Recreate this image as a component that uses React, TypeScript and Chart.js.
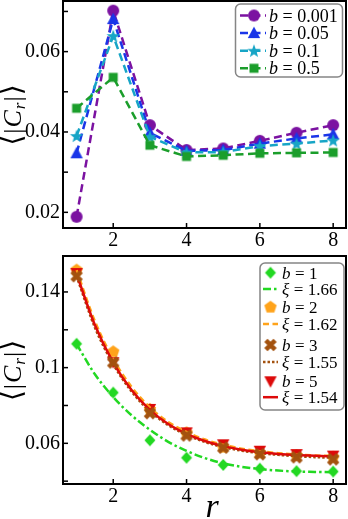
import React, { useEffect, useRef } from "react";
import { Chart, registerables } from "chart.js";
Chart.register(...registerables);

// ---------- data ----------
const rValues = [1, 2, 3, 4, 5, 6, 7, 8];

// top panel series
const bTop0001 = [0.0189, 0.0702, 0.0417, 0.0355, 0.0359, 0.0378, 0.0398, 0.0417];
const bTop005 = [0.0347, 0.0681, 0.0398, 0.0353, 0.0355, 0.0371, 0.0384, 0.0394];
const bTop01 = [0.039, 0.0639, 0.0388, 0.0349, 0.035, 0.0365, 0.0371, 0.0379];
const bTop05 = [0.0459, 0.0536, 0.0367, 0.0339, 0.0342, 0.0347, 0.0348, 0.0349];
const topLegendValues = ["0.001", "0.05", "0.1", "0.5"];

// bottom panel series
const bBot1 = [0.1126, 0.0868, 0.0616, 0.0524, 0.0486, 0.0466, 0.0453, 0.0451];
const bBot2 = [0.1518, 0.1086, 0.0782, 0.0658, 0.0582, 0.0552, 0.0538, 0.0529];
const bBot3 = [0.1483, 0.1027, 0.0759, 0.0641, 0.0577, 0.0542, 0.0526, 0.0515];
const bBot5 = [0.15, 0.1029, 0.0782, 0.0658, 0.0595, 0.0561, 0.0543, 0.0535];

// fitted curves
const rFit = [1, 1.5, 2, 2.5, 3, 3.5, 4, 4.5, 5, 5.5, 6, 6.5, 7, 7.5, 8];
const fitXi166 = [0.1125, 0.0965, 0.0845, 0.0748, 0.0672, 0.0608, 0.056, 0.0522, 0.0494, 0.0476, 0.0464, 0.0456, 0.0451, 0.0449, 0.0447];
const fitXi162 = [0.1515, 0.1245, 0.1045, 0.0898, 0.079, 0.0713, 0.066, 0.062, 0.0592, 0.0572, 0.0558, 0.0548, 0.0541, 0.0536, 0.0533];
const fitXi155 = [0.1483, 0.1212, 0.1018, 0.0874, 0.077, 0.0696, 0.0645, 0.0607, 0.058, 0.0561, 0.0548, 0.0539, 0.0532, 0.0527, 0.0524];
const fitXi154 = [0.1495, 0.1225, 0.1027, 0.0882, 0.0777, 0.0702, 0.065, 0.0612, 0.0585, 0.0566, 0.0553, 0.0544, 0.0538, 0.0534, 0.0531];
const bBotValues = ["1", "2", "3", "5"];
const xiValues = ["1.66", "1.62", "1.55", "1.54"];

// ticks
const xTicks = [2, 4, 6, 8];
const xTickLabels = ["2", "4", "6", "8"];
const topYTicks = [0.02, 0.03, 0.04, 0.05, 0.06, 0.07];
const topYLabels = ["0.02", "", "0.04", "", "0.06", ""];
const botYTicks = [0.04, 0.06, 0.08, 0.1, 0.12, 0.14];
const botYLabels = ["", "0.06", "", "0.1", "", "0.14"];

// ---------- styling ----------
const C = {
  purple: "#7B12A1",
  blue: "#1A35E8",
  cyan: "#17A5C6",
  green: "#1B9E2B",
  lime: "#22D822",
  orange: "#FFA31A",
  brown: "#A3520F",
  red: "#DD0A0A",
};
const SERIF = '"Liberation Serif"';

function makeMarker(shape: string, color: string): HTMLCanvasElement {
  const S = 18;
  const c = document.createElement("canvas");
  c.width = S;
  c.height = S;
  const g = c.getContext("2d")!;
  g.translate(S / 2, S / 2);
  g.fillStyle = color;
  g.beginPath();
  const poly = (pts: number[][]) => {
    pts.forEach((p, i) => (i ? g.lineTo(p[0], p[1]) : g.moveTo(p[0], p[1])));
    g.closePath();
  };
  if (shape === "circle") {
    g.arc(0, 0, 6, 0, Math.PI * 2);
  } else if (shape === "triUp") {
    poly([[0, -6.5], [6.2, 5], [-6.2, 5]]);
  } else if (shape === "triDown") {
    poly([[0, 6.5], [6.2, -5], [-6.2, -5]]);
  } else if (shape === "star") {
    const pts: number[][] = [];
    for (let i = 0; i < 10; i++) {
      const r = i % 2 === 0 ? 7 : 2.9;
      const a = -Math.PI / 2 + (i * Math.PI) / 5;
      pts.push([r * Math.cos(a), r * Math.sin(a) + 0.5]);
    }
    poly(pts);
  } else if (shape === "square") {
    g.rect(-4.5, -4.5, 9, 9);
  } else if (shape === "diamond") {
    poly([[0, -6], [5.5, 0], [0, 6], [-5.5, 0]]);
  } else if (shape === "pentagon") {
    const pts: number[][] = [];
    for (let i = 0; i < 5; i++) {
      const a = -Math.PI / 2 + (i * 2 * Math.PI) / 5;
      pts.push([6.5 * Math.cos(a), 6.5 * Math.sin(a) + 0.5]);
    }
    poly(pts);
  } else if (shape === "xfill") {
    const r = 6.5, t = 2.3;
    for (const ang of [Math.PI / 4, -Math.PI / 4]) {
      g.save();
      g.rotate(ang);
      g.rect(-r, -t, 2 * r, 2 * t);
      g.restore();
    }
  }
  g.fill();
  return c;
}

type LegendItem = { ds: number; line: boolean; marker: boolean; sym: string; val: string; y: number };
type LegendSpec = {
  box: { x: number; y: number; w: number; h: number };
  lineX0: number;
  lineX1: number;
  markerX: number;
  textX: number;
  fontSize: number;
  items: LegendItem[];
};

function drawYLabel(ctx: CanvasRenderingContext2D, cx: number, cy: number) {
  const segs = [
    { t: "⟨", f: `28px "DejaVu Sans"`, dy: 0 },
    { t: "|", f: `26px ${SERIF}`, dy: 0 },
    { t: "C", f: `italic 26px ${SERIF}`, dy: 0 },
    { t: "r", f: `italic 17px ${SERIF}`, dy: 4 },
    { t: "|", f: `26px ${SERIF}`, dy: 0 },
    { t: "⟩", f: `28px "DejaVu Sans"`, dy: 0 },
  ];
  ctx.save();
  ctx.translate(cx, cy);
  ctx.rotate(-Math.PI / 2);
  ctx.fillStyle = "#000";
  ctx.textBaseline = "alphabetic";
  ctx.textAlign = "left";
  let total = 0;
  const widths = segs.map((s) => {
    ctx.font = s.f;
    const w = ctx.measureText(s.t).width + 1;
    total += w;
    return w;
  });
  let x = -total / 2;
  segs.forEach((s, i) => {
    ctx.font = s.f;
    ctx.fillText(s.t, x, 8 + s.dy);
    x += widths[i];
  });
  ctx.restore();
}

function drawLegend(chart: any, spec: LegendSpec) {
  const ctx: CanvasRenderingContext2D = chart.ctx;
  ctx.save();
  const b = spec.box;
  ctx.beginPath();
  (ctx as any).roundRect(b.x, b.y, b.w, b.h, 5);
  ctx.fillStyle = "rgba(255,255,255,0.9)";
  ctx.fill();
  ctx.strokeStyle = "#858585";
  ctx.lineWidth = 1.5;
  ctx.stroke();
  for (const it of spec.items) {
    const ds = chart.data.datasets[it.ds];
    if (it.line) {
      ctx.save();
      ctx.setLineDash(ds.borderDash || []);
      ctx.strokeStyle = ds.borderColor;
      ctx.lineWidth = ds.borderWidth;
      ctx.beginPath();
      ctx.moveTo(spec.lineX0, it.y);
      ctx.lineTo(spec.lineX1, it.y);
      ctx.stroke();
      ctx.restore();
    }
    if (it.marker) {
      const img = ds.pointStyle as HTMLCanvasElement;
      ctx.drawImage(img, spec.markerX - img.width / 2, it.y - img.height / 2);
    }
    ctx.fillStyle = "#000";
    ctx.textBaseline = "alphabetic";
    ctx.textAlign = "left";
    const base = it.y + 6;
    let x = spec.textX;
    ctx.font = `italic ${spec.fontSize}px ${SERIF}`;
    ctx.fillText(it.sym, x, base);
    x += ctx.measureText(it.sym).width + 4.5;
    ctx.font = `${spec.fontSize}px ${SERIF}`;
    ctx.fillText("=", x, base);
    x += ctx.measureText("=").width + 4.5;
    ctx.fillText(it.val, x, base);
  }
  ctx.restore();
}

function decorPlugin(legend: LegendSpec, xLabel: { x: number; y: number } | null) {
  return {
    id: "decor",
    afterDatasetsDraw(chart: any) {
      const ctx: CanvasRenderingContext2D = chart.ctx;
      const a = chart.chartArea;
      ctx.save();
      ctx.strokeStyle = "#000";
      ctx.lineWidth = 1.5;
      const ys = chart.scales.y;
      ys.ticks.forEach((t: any) => {
        const py = ys.getPixelForValue(t.value);
        ctx.beginPath();
        ctx.moveTo(a.left, py);
        ctx.lineTo(a.left + 5, py);
        ctx.stroke();
      });
      const xs = chart.scales.x;
      xs.ticks.forEach((t: any) => {
        const px = xs.getPixelForValue(t.value);
        ctx.beginPath();
        ctx.moveTo(px, a.bottom);
        ctx.lineTo(px, a.bottom - 5);
        ctx.stroke();
      });
      ctx.lineWidth = 2;
      ctx.strokeRect(a.left, a.top, a.right - a.left, a.bottom - a.top);
      ctx.restore();
      drawYLabel(ctx, 13, (a.top + a.bottom) / 2);
      if (xLabel) {
        ctx.save();
        ctx.fillStyle = "#000";
        ctx.font = `italic 34px ${SERIF}`;
        ctx.textAlign = "center";
        ctx.textBaseline = "alphabetic";
        ctx.fillText("r", xLabel.x, xLabel.y);
        ctx.restore();
      }
      drawLegend(chart, legend);
    },
  };
}

function zeroPad(s: any) {
  s.paddingTop = 0;
  s.paddingBottom = 0;
  s.paddingLeft = 0;
  s.paddingRight = 0;
}

function baseOptions(yMin: number, yMax: number, yTicks: number[], yLabels: string[], padTop: number, xHeight: number) {
  const tickFont = { family: SERIF, size: 20 };
  return {
    responsive: false,
    animation: false,
    layout: { autoPadding: false, padding: { top: padTop, right: 2, left: 0, bottom: 0 } },
    plugins: { legend: { display: false }, tooltip: { enabled: false } },
    scales: {
      x: {
        type: "linear",
        min: 0.63,
        max: 8.35,
        afterBuildTicks: (s: any) => {
          s.ticks = xTicks.map((v) => ({ value: v }));
        },
        afterFit: (s: any) => {
          s.height = xHeight;
          zeroPad(s);
        },
        grid: { display: false, drawTicks: false },
        border: { display: false },
        ticks: {
          padding: 1,
          autoSkip: false,
          maxRotation: 0,
          color: "#000",
          font: tickFont,
          callback: (_v: any, i: number) => xTickLabels[i],
        },
      },
      y: {
        type: "linear",
        min: yMin,
        max: yMax,
        afterBuildTicks: (s: any) => {
          s.ticks = yTicks.map((v) => ({ value: v }));
        },
        afterFit: (s: any) => {
          s.width = 63;
          zeroPad(s);
        },
        grid: { display: false, drawTicks: false },
        border: { display: false },
        ticks: {
          padding: 3,
          autoSkip: false,
          color: "#000",
          font: tickFont,
          callback: (_v: any, i: number) => yLabels[i],
        },
      },
    },
  };
}

const pts = (xs: number[], ys: number[]) => xs.map((x, i) => ({ x, y: ys[i] }));

function topConfig(): any {
  const series = [
    { d: bTop0001, c: C.purple, m: "circle" },
    { d: bTop005, c: C.blue, m: "triUp" },
    { d: bTop01, c: C.cyan, m: "star" },
    { d: bTop05, c: C.green, m: "square" },
  ];
  const datasets = series.map((s, i) => ({
    data: pts(rValues, s.d),
    borderColor: s.c,
    backgroundColor: s.c,
    borderWidth: 2.5,
    borderDash: [8, 4.5],
    pointStyle: makeMarker(s.m, s.c),
    pointRadius: 6,
    showLine: true,
    tension: 0,
    order: series.length - i,
  }));
  const legend: LegendSpec = {
    box: { x: 235.5, y: 4, w: 107, h: 73 },
    lineX0: 240,
    lineX1: 266,
    markerX: 254,
    textX: 269,
    fontSize: 18,
    items: topLegendValues.map((v, i) => ({ ds: i, line: true, marker: true, sym: "b", val: v, y: 15.5 + i * 17.6 })),
  };
  return {
    type: "line",
    data: { datasets },
    options: baseOptions(0.0161, 0.0726, topYTicks, topYLabels, 1, 26),
    plugins: [decorPlugin(legend, null)],
  };
}

function bottomConfig(): any {
  const mk = (d: number[], c: string, m: string, order: number) => ({
    data: pts(rValues, d),
    borderColor: c,
    backgroundColor: c,
    borderWidth: 0,
    pointStyle: makeMarker(m, c),
    pointRadius: 6,
    showLine: false,
    order,
  });
  const fit = (d: number[], c: string, dash: number[], order: number) => ({
    data: pts(rFit, d),
    borderColor: c,
    backgroundColor: c,
    borderWidth: 2.5,
    borderDash: dash,
    pointRadius: 0,
    showLine: true,
    cubicInterpolationMode: "monotone",
    order,
  });
  const datasets = [
    mk(bBot1, C.lime, "diamond", 7),
    fit(fitXi166, C.lime, [8, 3, 2.5, 3], 8),
    mk(bBot2, C.orange, "pentagon", 6),
    fit(fitXi162, C.orange, [6, 3.5], 4),
    mk(bBot3, C.brown, "xfill", 1),
    fit(fitXi155, C.brown, [2.5, 2], 3),
    mk(bBot5, C.red, "triDown", 5),
    fit(fitXi154, C.red, [], 2),
  ];
  const rowsY = [18.7, 35, 52.7, 70, 91, 108, 127.3, 143.2];
  const items: LegendItem[] = [];
  bBotValues.forEach((v, i) => {
    items.push({ ds: i * 2, line: false, marker: true, sym: "b", val: v, y: rowsY[i * 2] });
    items.push({ ds: i * 2 + 1, line: true, marker: false, sym: "ξ", val: xiValues[i], y: rowsY[i * 2 + 1] });
  });
  const legend: LegendSpec = {
    box: { x: 260, y: 9, w: 84, h: 147 },
    lineX0: 263,
    lineX1: 278,
    markerX: 270.5,
    textX: 282,
    fontSize: 17,
    items,
  };
  return {
    type: "line",
    data: { datasets },
    options: baseOptions(0.0385, 0.159, botYTicks, botYLabels, 2, 35),
    plugins: [decorPlugin(legend, { x: 212, y: 263 })],
  };
}

export default function App() {
  const topRef = useRef<HTMLCanvasElement>(null);
  const botRef = useRef<HTMLCanvasElement>(null);
  useEffect(() => {
    const c1 = new Chart(topRef.current!, topConfig());
    const c2 = new Chart(botRef.current!, bottomConfig());
    return () => {
      c1.destroy();
      c2.destroy();
    };
  }, []);
  return (
    <div style={{ position: "absolute", left: 0, top: 0, width: 348, height: 519, background: "#fff" }}>
      <canvas ref={topRef} width={348} height={254} style={{ position: "absolute", left: 0, top: 0 }} />
      <canvas ref={botRef} width={348} height={265} style={{ position: "absolute", left: 0, top: 254 }} />
    </div>
  );
}
